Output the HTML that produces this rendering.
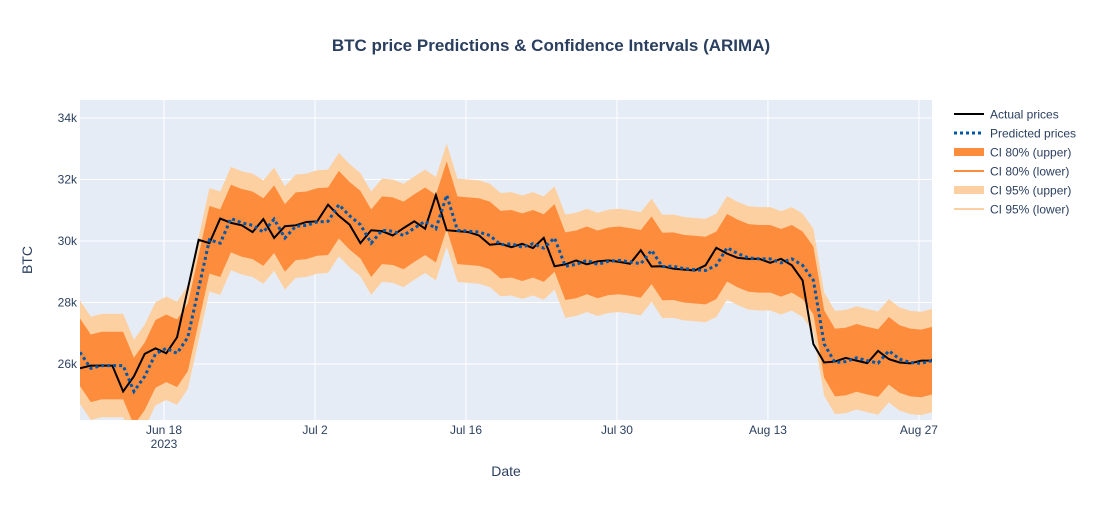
<!DOCTYPE html>
<html><head><meta charset="utf-8"><style>
body{margin:0;background:#fff;font-family:"Liberation Sans",Arial,sans-serif;}
svg text{font-family:"Liberation Sans",Arial,sans-serif;fill:#2a3f5f;}
</style></head><body>
<svg id="chart" width="1103" height="500" xmlns="http://www.w3.org/2000/svg">
<rect width="1103" height="500" fill="#fff"/>
<text x="551" y="51" text-anchor="middle" font-size="17" font-weight="bold">BTC price Predictions &amp; Confidence Intervals (ARIMA)</text>
<rect x="80" y="100" width="852" height="320" fill="#e5ecf6"/>
<defs><clipPath id="clip"><rect x="80" y="100" width="852" height="320"/></clipPath></defs>
<g id="grid"></g>
<g id="marks" clip-path="url(#clip)"></g>
<g id="axes"></g>
<text x="506" y="476" text-anchor="middle" font-size="14">Date</text>
<text transform="translate(32,260) rotate(-90)" text-anchor="middle" font-size="14">BTC</text>
<g id="legend"></g>
</svg>
<script>
const actual=[25.86,25.95,25.95,25.95,25.11,25.6,26.33,26.51,26.35,26.87,28.45,30.04,29.93,30.73,30.59,30.51,30.29,30.71,30.1,30.48,
30.51,30.62,30.64,31.18,30.82,30.53,29.93,30.35,30.32,30.18,30.42,30.64,30.4,31.49,30.35,30.32,30.29,30.18,29.88,29.91,
29.8,29.91,29.77,30.1,29.18,29.24,29.37,29.24,29.34,29.37,29.32,29.26,29.7,29.17,29.18,29.1,29.07,29.04,29.21,29.78,
29.59,29.45,29.42,29.42,29.29,29.42,29.21,28.72,26.65,26.05,26.08,26.2,26.11,26.03,26.43,26.16,26.05,26.02,26.11,26.11,26.9];
const predicted=[26.38].concat(actual.slice(0,actual.length-1));
const ci80Half=[1.1];
const ci95Half=[1.68];
const yTicks=[26,28,30,32,34];
const yTickLabels=["26k","28k","30k","32k","34k"];
const xTickDays=[0,14,28,42,56,70];
const xTickLabels=["Jun 18","Jul 2","Jul 16","Jul 30","Aug 13","Aug 27"];
const startOffset=-7.79;

const X0=80,X1=932,Y0=420,Y1=100;
const dMin=-7.79,dMax=71.21,vMin=24.18,vMax=34.585;
const xs=d=>X0+(d-dMin)/(dMax-dMin)*(X1-X0);
const ys=v=>Y0-(v-vMin)/(vMax-vMin)*(Y0-Y1);
const NS="http://www.w3.org/2000/svg";
function mk(tag,attrs,parent){const e=document.createElementNS(NS,tag);for(const k in attrs)e.setAttribute(k,attrs[k]);parent.appendChild(e);return e;}
const grid=document.getElementById('grid'),marks=document.getElementById('marks'),axes=document.getElementById('axes'),leg=document.getElementById('legend');

yTicks.forEach((v,i)=>{
  const l=mk('line',{x1:X0,x2:X1,y1:ys(v),y2:ys(v),stroke:'#fff','stroke-width':1},grid);
  
  
  const t=mk('text',{x:X0-3,y:ys(v)+4,'text-anchor':'end','font-size':12},axes);
  t.textContent=yTickLabels[i];
  
  
});
xTickDays.forEach((d,i)=>{
  const l=mk('line',{x1:xs(d),x2:xs(d),y1:Y1,y2:Y0,stroke:'#fff','stroke-width':1},grid);
  
  
  const t=mk('text',{x:xs(d),y:434,'text-anchor':'middle','font-size':12},axes);
  t.textContent=xTickLabels[i];
  
  
  if(i===0){const t2=mk('text',{x:xs(d),y:448,'text-anchor':'middle','font-size':12},axes);t2.textContent='2023';
  
  }
});

function band(half,color,name){
  const up=predicted.map((v,i)=>[xs(startOffset+i),ys(v+half)]);
  const lo=predicted.map((v,i)=>[xs(startOffset+i),ys(v-half)]).reverse();
  const p=mk('polygon',{points:up.concat(lo).map(p=>p.join(',')).join(' '),fill:color},marks);
  
  
}
band(ci95Half[0],'#fdd0a2','ci95-band');
band(ci80Half[0],'#fd8d3c','ci80-band');
function line(arr,attrs,name){
  const pts=arr.map((v,i)=>xs(startOffset+i)+','+ys(v)).join(' ');
  const p=mk('polyline',Object.assign({points:pts,fill:'none'},attrs),marks);
  
  
}
line(actual,{stroke:'#000','stroke-width':2},'actual-line');
line(predicted,{stroke:'#0057a8','stroke-width':3,'stroke-dasharray':'3,3'},'predicted-line');

const legItems=[
 ['Actual prices',{stroke:'#000','stroke-width':2}],
 ['Predicted prices',{stroke:'#0057a8','stroke-width':3,'stroke-dasharray':'3,3'}],
 ['CI 80% (upper)',{stroke:'#fd8d3c','stroke-width':8}],
 ['CI 80% (lower)',{stroke:'#fd8d3c','stroke-width':2}],
 ['CI 95% (upper)',{stroke:'#fdd0a2','stroke-width':8}],
 ['CI 95% (lower)',{stroke:'#fdd0a2','stroke-width':2}]];
legItems.forEach((it,i)=>{
  const y=114+i*19;
  const g=mk('g',{},leg);
  
  
  mk('line',Object.assign({x1:954,x2:984,y1:y,y2:y},it[1]),g);
  const t=mk('text',{x:990,y:y+4.5,'font-size':12},g);t.textContent=it[0];
});
</script>
</body></html>
